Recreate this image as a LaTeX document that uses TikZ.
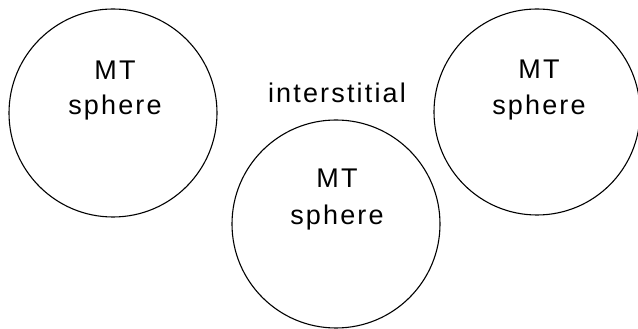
\documentclass[tikz,border=0pt]{standalone}
\usepackage{fontspec}
\setmainfont[LetterSpace=8]{Liberation Sans}
\begin{document}
\begin{tikzpicture}[x=1pt,y=1pt,
  sphere/.style={draw, circle, line width=1.1pt, inner sep=0pt},
  lbl/.style={anchor=base, inner sep=0pt, font=\fontsize{27}{32}\selectfont}]
\useasboundingbox (0,0) rectangle (638,329);
\node[sphere, minimum size=208pt] (left) at (113,216) {};
\node[sphere, minimum size=206pt] (right) at (537,217) {};
\node[sphere, minimum size=208pt] (mid) at (336,105) {};
\node[lbl] (lmt) at (115,249) {MT};
\node[lbl] (lsp) at (115,214) {sphere};
\node[lbl] (rmt) at (539,250) {MT};
\node[lbl] (rsp) at (539,214) {sphere};
\node[lbl] (mmt) at (337,141) {MT};
\node[lbl] (msp) at (337,104) {sphere};
\node[lbl] (inter) at (337,226) {interstitial};
\end{tikzpicture}
\end{document}
